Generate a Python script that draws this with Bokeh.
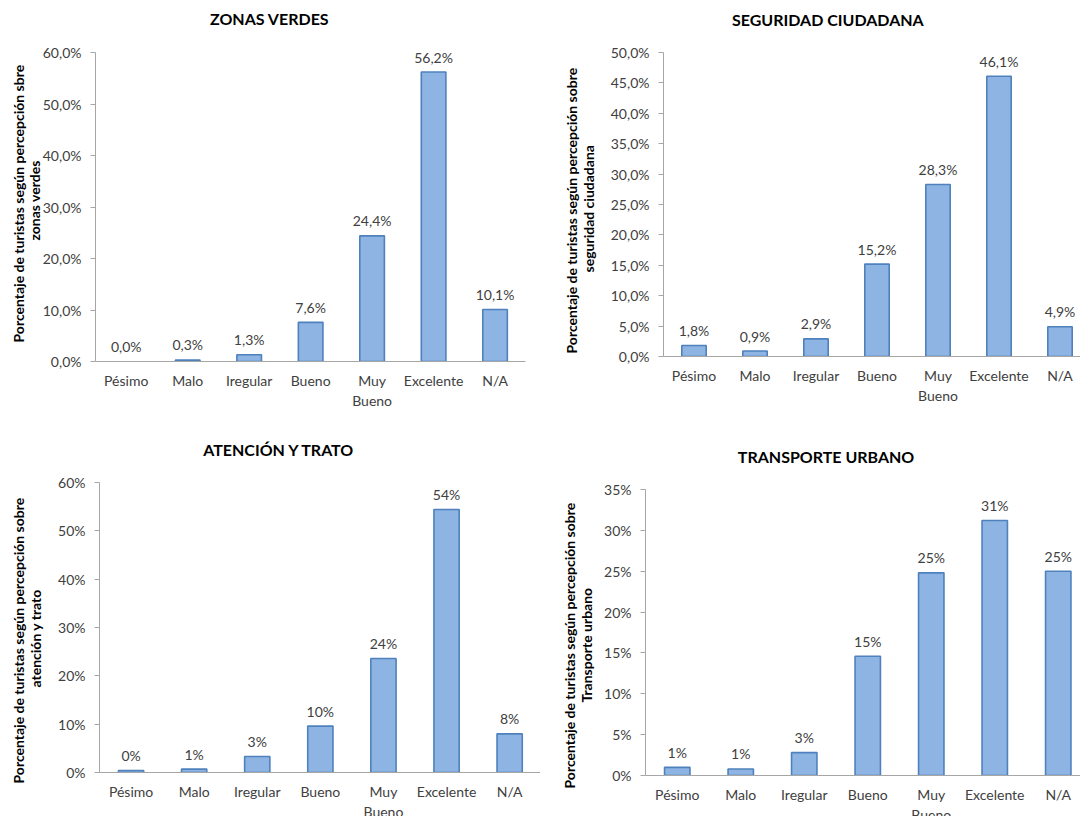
from bokeh.plotting import figure
from bokeh.models import Range1d, FixedTicker, LabelSet, ColumnDataSource, Title
from bokeh.layouts import column, row
from bokeh.embed import file_html
from bokeh.resources import INLINE
from bokeh.core.properties import value

# Rating categories shared by the four panels
categorias = ["Pésimo", "Malo", "Iregular", "Bueno", "Muy Bueno", "Excelente", "N/A"]
etiquetas_eje = ["Pésimo", "Malo", "Iregular", "Bueno", "Muy\nBueno", "Excelente", "N/A"]

# Percentage of tourists per rating
zonas_verdes = [0.0, 0.3, 1.3, 7.6, 24.4, 56.2, 10.1]
seguridad_ciudadana = [1.8, 0.9, 2.9, 15.2, 28.3, 46.1, 4.9]
atencion_trato = [0.4, 0.7, 3.3, 9.6, 23.6, 54.4, 8.0]
transporte_urbano = [1.0, 0.8, 2.8, 14.6, 24.8, 31.2, 25.0]

titulos = ["ZONAS VERDES", "SEGURIDAD CIUDADANA", "ATENCIÓN Y TRATO", "TRANSPORTE URBANO"]
ejes_y = [
    ["Porcentaje de turistas  según percepción sbre", "zonas verdes"],
    ["Porcentaje de turistas  según percepción sobre", "seguridad ciudadana"],
    ["Porcentaje de turistas  según percepción sobre", "atención y trato"],
    ["Porcentaje de turistas  según percepción sobre", "Transporte urbano"],
]

FONT = "Lato"
GRIS_EJE = "#A6A6A6"
TEXTO = "#404040"
RELLENO = "#8DB4E2"
BORDE = "#4F81BD"


def fmt(v, dec):
    return (f"{v:.{dec}f}".replace(".", ",")) + "%"


def hueco(espacio):
    """Blank title used only to reserve room between stacked side panels."""
    return Title(text=" ", text_font_size="1px", standoff=espacio)


def panel(titulo, eje, valores, dec, y_max, y_paso, g):
    fw, fh = g["frame"]
    p = figure(frame_width=fw, frame_height=fh, title=None,
               min_border_left=g["left"], min_border_right=g["right"],
               min_border_top=g["top"], min_border_bottom=g["bottom"],
               x_range=Range1d(0, fw / g["paso"]), y_range=Range1d(0, g.get("y_end", y_max)),
               output_backend="svg", toolbar_location=None, tools="")
    p.outline_line_color = None
    p.grid.visible = False
    p.background_fill_color = "white"
    p.border_fill_color = "white"

    xs = [i + 0.5 for i in range(len(categorias))]
    src = ColumnDataSource(dict(
        x=xs, top=valores,
        etiqueta=[fmt(v, dec) for v in valores],
        borde=[0.0 if v == 0 else 1.0 for v in valores],
    ))
    p.vbar(x="x", top="top", bottom=0, width=0.4, source=src,
           fill_color=RELLENO, line_color=BORDE, line_width=1.6, line_alpha="borde")

    p.add_layout(LabelSet(x="x", y="top", text="etiqueta", source=src,
                          y_offset=15, text_align="center", text_baseline="middle",
                          text_font=value(FONT), text_font_size="14px",
                          text_color=TEXTO))

    # category axis
    xa = p.xaxis[0]
    xa.ticker = FixedTicker(ticks=xs)
    xa.major_label_overrides = {x: lab for x, lab in zip(xs, etiquetas_eje)}
    xa.major_tick_out = 0
    xa.major_tick_in = 0
    xa.minor_tick_line_color = None
    xa.axis_line_color = GRIS_EJE
    xa.major_label_standoff = 10
    xa.major_label_text_font = FONT
    xa.major_label_text_font_size = "14px"
    xa.major_label_text_color = TEXTO

    # percentage axis
    ya = p.yaxis[0]
    ticks = list(range(0, y_max + 1, y_paso))
    ya.ticker = FixedTicker(ticks=ticks)
    ya.bounds = (0, y_max)
    ya.major_label_overrides = {t: fmt(t, dec) for t in ticks}
    ya.major_tick_out = 5
    ya.major_tick_in = 0
    ya.minor_tick_line_color = None
    ya.axis_line_color = GRIS_EJE
    ya.major_tick_line_color = GRIS_EJE
    ya.major_label_standoff = 9
    ya.major_label_text_font = FONT
    ya.major_label_text_font_size = "14px"
    ya.major_label_text_color = TEXTO

    # chart title (spacer first, so it sits between the frame and the title)
    p.add_layout(hueco(g["t_gap"]), "above")
    p.add_layout(Title(text=titulo, align="left", offset=g["t_off"], standoff=0,
                       text_font=FONT, text_font_style="bold",
                       text_font_size="16px", text_color="black"), "above")

    # two-line y-axis title, inner line first
    if g["a_gap"] > 0:
        p.add_layout(hueco(g["a_gap"]), "left")
    for linea, st, off in ((eje[1], g["st2"], g["off2"]), (eje[0], g["st1"], g["off1"])):
        p.add_layout(Title(text=linea, align="left", offset=off, standoff=st,
                           text_font=FONT, text_font_style="bold",
                           text_font_size="14px", text_color="black"), "left")
    return p


geom = [
    dict(left=95, right=15, top=52, bottom=69, frame=(430, 309), paso=61.47,
         t_off=114.5, t_gap=22, a_gap=0, st2=-6, st1=-1, off2=121, off1=19),
    dict(left=123, right=0, top=52, bottom=74, frame=(417, 304), paso=61.0,
         t_off=68.5, t_gap=21.3, a_gap=8.5, st2=-2, st1=-2, off2=84, off1=3),
    dict(left=99, right=0, top=52, bottom=44, frame=(441, 290), paso=63.1,
         t_off=103.7, t_gap=21.3, a_gap=10, st2=-2.5, st1=-2.5, off2=85, off1=-11),
    dict(left=105, right=0, top=52, bottom=41, frame=(435, 293), paso=63.5,
         y_end=293 * 35 / 286, t_off=92.3, t_gap=14, a_gap=4.5, st2=-2, st1=-2,
         off2=73, off1=-13),
]

p1 = panel(titulos[0], ejes_y[0], zonas_verdes, 1, 60, 10, geom[0])
p2 = panel(titulos[1], ejes_y[1], seguridad_ciudadana, 1, 50, 5, geom[1])
p3 = panel(titulos[2], ejes_y[2], atencion_trato, 0, 60, 10, geom[2])
p4 = panel(titulos[3], ejes_y[3], transporte_urbano, 0, 35, 5, geom[3])

doc = column(row(p1, p2), row(p3, p4))
open("out.html", "w").write(file_html(doc, INLINE))
